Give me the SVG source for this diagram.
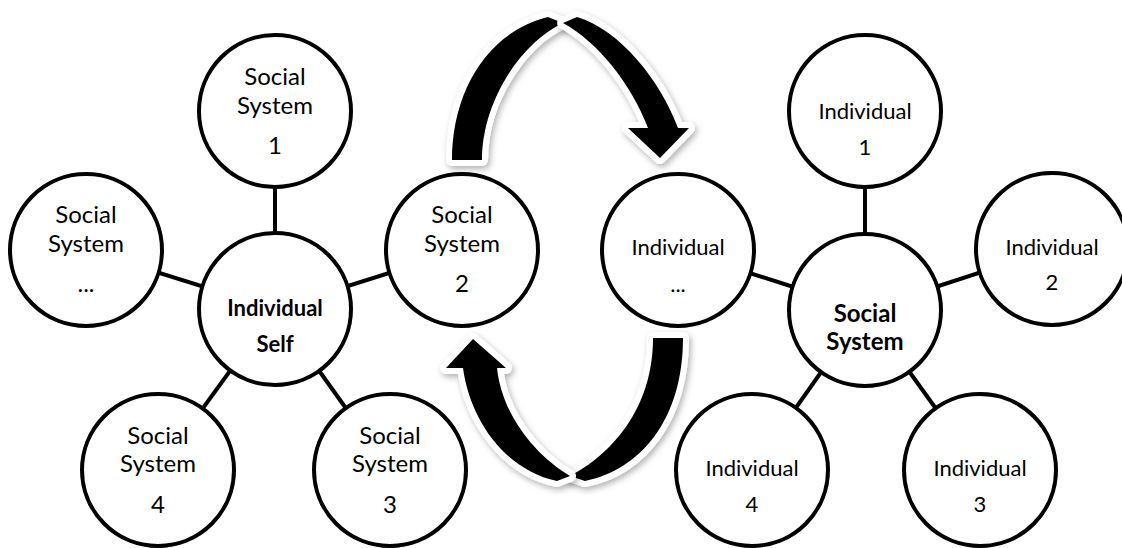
<svg xmlns="http://www.w3.org/2000/svg" width="1122" height="548" viewBox="0 0 1122 548">
<style>
.node circle{fill:#fff;stroke:#000;stroke-width:4}
.conn line{stroke:#000;stroke-width:4}
text{font-family:Lato,"Liberation Sans",sans-serif;font-size:24px;fill:#000;text-anchor:middle}
text.i{font-size:22px}
text.b{font-weight:bold}
.ol{fill:#fff;stroke:#fff;stroke-width:12;stroke-linejoin:round}
.fl{fill:#000}
</style>
<defs>
<filter id="sh" x="-20%" y="-20%" width="140%" height="140%">
<feDropShadow dx="2" dy="3" stdDeviation="3" flood-color="#000" flood-opacity="0.3"/>
</filter>
<path id="tA" d="M452,160 C452,92 487,32 548,17 L563,23 C522,42 482,100 482,160 Z"/>
<path id="tB" d="M563,23 L577,17 C620,30 660,80 678,128 L689,128 L660,158 L628,128 L648,128 C632,85 598,42 563,23 Z"/>
<path id="bA" d="M683,338 C683,420 640,470 585,481 L570,476 C610,455 653,410 653,338 Z"/>
<path id="bB" d="M570,476 L557,481 C505,470 470,420 463,368 L446,368 L473,339 L506,368 L497,368 C502,415 535,455 570,476 Z"/>
</defs>
<rect width="1122" height="548" fill="#fff"/>
<g id="cycle-arrows">
<use href="#tA" class="ol" filter="url(#sh)"/><use href="#tA" class="fl"/>
<use href="#tB" class="ol" filter="url(#sh)"/><use href="#tB" class="fl"/>
<use href="#bA" class="ol" filter="url(#sh)"/><use href="#bA" class="fl"/>
<use href="#bB" class="ol" filter="url(#sh)"/><use href="#bB" class="fl"/>
</g>
<g id="connectors" class="conn">
<line x1="275" y1="309" x2="275" y2="111"/>
<line x1="275" y1="309" x2="86" y2="250"/>
<line x1="275" y1="309" x2="462" y2="250"/>
<line x1="275" y1="309" x2="158" y2="470"/>
<line x1="275" y1="309" x2="390" y2="470"/>
<line x1="865" y1="310" x2="865" y2="111"/>
<line x1="865" y1="310" x2="678" y2="250"/>
<line x1="865" y1="310" x2="1052" y2="249"/>
<line x1="865" y1="310" x2="752" y2="470"/>
<line x1="865" y1="310" x2="980" y2="470"/>
</g>
<g id="individual-self" class="node"><circle cx="275" cy="309" r="76"/><text class="b i" x="275" y="316">Individual</text><text class="b i" x="275" y="352">Self</text></g>
<g id="social-system-1" class="node"><circle cx="275" cy="111" r="76"/><text x="275" y="85">Social</text><text x="275" y="114">System</text><text x="275" y="154">1</text></g>
<g id="social-system-etc" class="node"><circle cx="86" cy="250" r="76"/><text x="86" y="223">Social</text><text x="86" y="252">System</text><text x="86" y="292">...</text></g>
<g id="social-system-2" class="node"><circle cx="462" cy="250" r="76"/><text x="462" y="223">Social</text><text x="462" y="252">System</text><text x="462" y="292">2</text></g>
<g id="social-system-4" class="node"><circle cx="158" cy="470" r="76"/><text x="158" y="444">Social</text><text x="158" y="472">System</text><text x="158" y="513">4</text></g>
<g id="social-system-3" class="node"><circle cx="390" cy="470" r="76"/><text x="390" y="444">Social</text><text x="390" y="472">System</text><text x="390" y="513">3</text></g>
<g id="social-system" class="node"><circle cx="865" cy="310" r="76"/><text class="b" x="865" y="322">Social</text><text class="b" x="865" y="350">System</text></g>
<g id="individual-1" class="node"><circle cx="865" cy="111" r="76"/><text class="i" x="865" y="119">Individual</text><text class="i" x="865" y="155">1</text></g>
<g id="individual-etc" class="node"><circle cx="678" cy="250" r="76"/><text class="i" x="678" y="255">Individual</text><text class="i" x="678" y="292">...</text></g>
<g id="individual-2" class="node"><circle cx="1052" cy="249" r="76"/><text class="i" x="1052" y="255">Individual</text><text class="i" x="1052" y="290">2</text></g>
<g id="individual-4" class="node"><circle cx="752" cy="470" r="76"/><text class="i" x="752" y="476">Individual</text><text class="i" x="752" y="512">4</text></g>
<g id="individual-3" class="node"><circle cx="980" cy="470" r="76"/><text class="i" x="980" y="476">Individual</text><text class="i" x="980" y="512">3</text></g>
</svg>
